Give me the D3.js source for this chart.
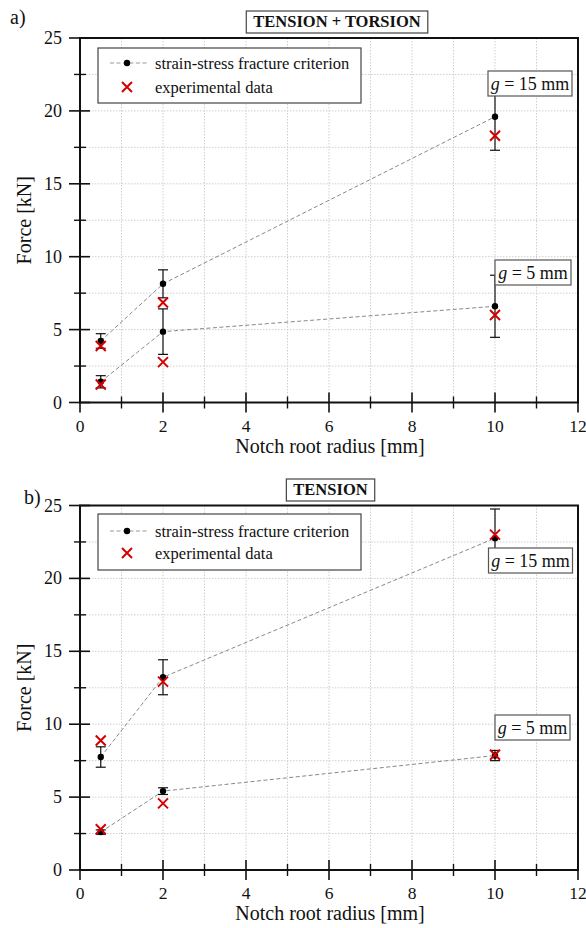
<!DOCTYPE html>
<html><head><meta charset="utf-8">
<script src="https://cdn.jsdelivr.net/npm/d3@7"></script>
<style>body{margin:0;background:#fff}svg{display:block}text{font-family:"Liberation Serif","Times New Roman",serif;fill:#111}</style>
</head><body><svg id="c" width="586" height="928"></svg>
<script>
// ---- data ----
const radius = [0.5, 2, 10];
// a) tension + torsion
const ttG15Crit = [4.22, 8.14, 19.6];
const ttG15Err  = [0.5, 0.96, 2.3];
const ttG15Exp  = [3.87, 6.86, 18.3];
const ttG5Crit  = [1.42, 4.86, 6.6];
const ttG5Err   = [0.42, 1.56, 2.13];
const ttG5Exp   = [1.24, 2.77, 6.0];
// b) tension
const tG15Crit = [7.75, 13.22, 22.76];
const tG15Err  = [0.7, 1.2, 2.0];
const tG15Exp  = [8.88, 12.92, 23.0];
const tG5Crit  = [2.6, 5.41, 7.85];
const tG5Err   = [0.15, 0.23, 0.35];
const tG5Exp   = [2.79, 4.57, 7.9];
const xTicks = [0, 2, 4, 6, 8, 10, 12];
const yTicks = [0, 5, 10, 15, 20, 25];
const legendLabels = ["strain-stress fracture criterion", "experimental data"];
const seriesLabels = ["15", "5"];

const svg = d3.select("#c");
const RED = "#d40000";

function panel(o){
  const g = svg.append("g");
  const x = d3.scaleLinear().domain([0,12]).range([80,578]);
  const y = d3.scaleLinear().domain([0,25]).range([o.y0, o.y0-364.5]);
  // grid
  const gx = d3.range(1,12,1), gy = d3.range(2.5,25,2.5);
  g.selectAll(".gv").data(gx).join("line").attr("x1",d=>x(d)).attr("x2",d=>x(d))
    .attr("y1",y(0)).attr("y2",y(25)).attr("stroke","#cfcfcf").attr("stroke-dasharray","1.5,1.5").attr("stroke-width",1);
  g.selectAll(".gh").data(gy).join("line").attr("y1",d=>y(d)).attr("y2",d=>y(d))
    .attr("x1",x(0)).attr("x2",x(12)).attr("stroke","#cfcfcf").attr("stroke-dasharray","1.5,1.5").attr("stroke-width",1);
  // frame
  g.append("rect").attr("x",x(0)).attr("y",y(25)).attr("width",x(12)-x(0)).attr("height",y(0)-y(25))
    .attr("fill","none").attr("stroke","#111").attr("stroke-width",2);
  // ticks
  const yMinor = d3.range(2.5,25,5), xMinor = d3.range(1,12,2);
  g.selectAll(".ytM").data(yTicks).join("line").attr("x1",x(0)-11).attr("x2",x(0)+10)
    .attr("y1",d=>y(d)).attr("y2",d=>y(d)).attr("stroke","#111").attr("stroke-width",1.6);
  g.selectAll(".ytm").data(yMinor).join("line").attr("x1",x(0)-6).attr("x2",x(0)+6)
    .attr("y1",d=>y(d)).attr("y2",d=>y(d)).attr("stroke","#111").attr("stroke-width",1.4);
  g.selectAll(".xtM").data(xTicks).join("line").attr("y1",y(0)-10).attr("y2",y(0)+10)
    .attr("x1",d=>x(d)).attr("x2",d=>x(d)).attr("stroke","#111").attr("stroke-width",1.6);
  g.selectAll(".xtm").data(xMinor).join("line").attr("y1",y(0)-6).attr("y2",y(0)+6)
    .attr("x1",d=>x(d)).attr("x2",d=>x(d)).attr("stroke","#111").attr("stroke-width",1.4);
  g.selectAll(".ytl").data(yTicks).join("text").attr("x",62).attr("y",d=>y(d)+6)
    .attr("text-anchor","end").attr("font-size",18).text(d=>d);
  g.selectAll(".xtl").data(xTicks).join("text").attr("x",d=>x(d)).attr("y",y(0)+29)
    .attr("text-anchor","middle").attr("font-size",17.5).text(d=>d);
  g.append("text").attr("x",330).attr("y",y(0)+50).attr("text-anchor","middle").attr("font-size",20).text("Notch root radius [mm]");
  g.append("text").attr("transform",`translate(31,${(y(0)+y(25))/2}) rotate(-90)`).attr("text-anchor","middle").attr("font-size",20).text("Force [kN]");
  // panel letter
  g.append("text").attr("x",o.letterX).attr("y",o.letterY).attr("font-size",20).text(o.letter);
  // title box
  const tt = g.append("text").attr("x",o.titleCx).attr("y",o.titleY).attr("text-anchor","middle")
    .attr("font-size",16.5).attr("font-weight","bold").text(o.title);
  const bb = tt.node().getBBox();
  g.insert("rect","text").attr("x",bb.x-7).attr("y",o.titleY-16).attr("width",bb.width+14).attr("height",22)
    .attr("fill","#fff").attr("stroke","#444").attr("stroke-width",1.2);
  // series
  const line = d3.line().x(d=>x(d[0])).y(d=>y(d[1]));
  o.series.forEach((s,si)=>{
    const pts = radius.map((r,i)=>[r,s.crit[i],s.err[i],s.exp[i]]);
    g.append("path").attr("d",line(pts)).attr("fill","none").attr("stroke","#888").attr("stroke-width",1).attr("stroke-dasharray","4,2.5");
    pts.forEach(p=>{
      g.append("line").attr("x1",x(p[0])).attr("x2",x(p[0])).attr("y1",y(p[1]-p[2])).attr("y2",y(p[1]+p[2])).attr("stroke","#111").attr("stroke-width",1.2);
      [p[1]-p[2],p[1]+p[2]].forEach(v=>g.append("line").attr("x1",x(p[0])-5).attr("x2",x(p[0])+5).attr("y1",y(v)).attr("y2",y(v)).attr("stroke","#111").attr("stroke-width",1.2));
    });
  });
  o.series.forEach(s=>{
    radius.forEach((r,i)=>{
      g.append("circle").attr("cx",x(r)).attr("cy",y(s.crit[i])).attr("r",3.2).attr("fill","#000");
    });
    radius.forEach((r,i)=>{
      const cx=x(r), cy=y(s.exp[i]), h=5;
      g.append("path").attr("d",`M${cx-h},${cy-h}L${cx+h},${cy+h}M${cx-h},${cy+h}L${cx+h},${cy-h}`).attr("stroke",RED).attr("stroke-width",2).attr("fill","none");
    });
  });
  // annotation boxes
  o.series.forEach((s,si)=>{
    const bx = s.box;
    g.append("rect").attr("x",bx[0]).attr("y",bx[1]).attr("width",bx[2]).attr("height",25).attr("fill","#fff").attr("stroke","#555").attr("stroke-width",1.2);
    const t = g.append("text").attr("x",bx[0]+bx[2]/2).attr("y",bx[1]+18.5).attr("text-anchor","middle").attr("font-size",18);
    t.append("tspan").attr("font-style","italic").text("g");
    t.append("tspan").text(" = "+seriesLabels[si]+" mm");
  });
  // legend
  const L = o.legend;
  g.append("rect").attr("x",98).attr("y",L.top).attr("width",263).attr("height",L.h).attr("fill","#fff").attr("stroke","#444").attr("stroke-width",1.2);
  g.append("line").attr("x1",110).attr("x2",147).attr("y1",L.r1).attr("y2",L.r1).attr("stroke","#999").attr("stroke-dasharray","4,2.5");
  g.append("circle").attr("cx",127).attr("cy",L.r1).attr("r",3.2).attr("fill","#000");
  g.append("path").attr("d",`M122,${L.r2-5}L132,${L.r2+5}M122,${L.r2+5}L132,${L.r2-5}`).attr("stroke",RED).attr("stroke-width",2);
  g.append("text").attr("x",155).attr("y",L.r1+5.5).attr("font-size",16.5).text(legendLabels[0]);
  g.append("text").attr("x",155).attr("y",L.r2+5.5).attr("font-size",16.5).text(legendLabels[1]);
}

panel({y0:402.5, letter:"a)", letterX:10, letterY:24, title:"TENSION + TORSION", titleCx:337, titleY:27,
  legend:{top:48,h:55,r1:63,r2:87},
  series:[{crit:ttG15Crit,err:ttG15Err,exp:ttG15Exp,box:[488,71,84]},
          {crit:ttG5Crit,err:ttG5Err,exp:ttG5Exp,box:[495,260,76]}]});
panel({y0:870, letter:"b)", letterX:24, letterY:504, title:"TENSION", titleCx:330.5, titleY:495,
  legend:{top:514,h:56,r1:531,r2:553},
  series:[{crit:tG15Crit,err:tG15Err,exp:tG15Exp,box:[488.5,548,84]},
          {crit:tG5Crit,err:tG5Err,exp:tG5Exp,box:[495,715,75]}]});
</script></body></html>
